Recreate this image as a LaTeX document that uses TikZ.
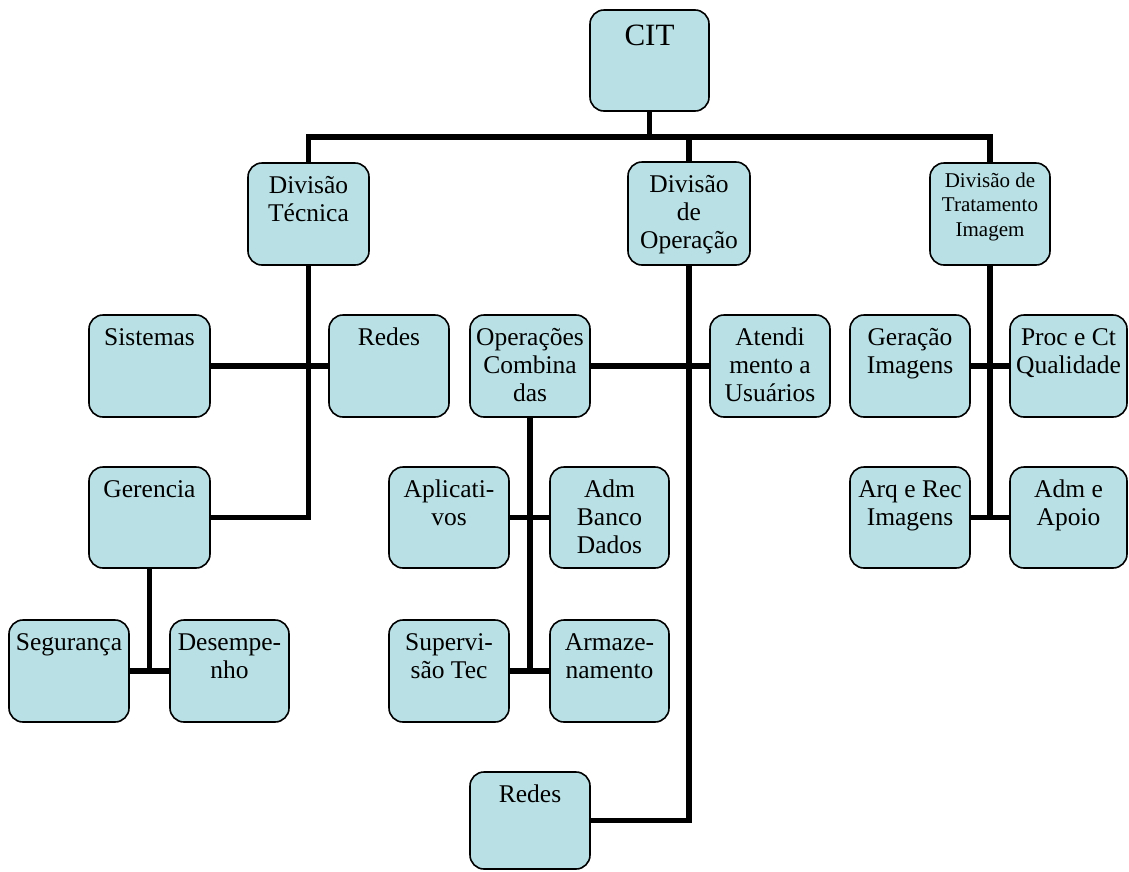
\documentclass[tikz,border=0pt]{standalone}
\usepackage{fontspec}
\setmainfont{Liberation Serif}
\definecolor{boxfill}{RGB}{185,224,228}
\newcommand{\bx}[4]{\parbox[c][#2][t]{#1}{\centering\rule{0pt}{#3}#4}}
\tikzset{
  box/.style={draw=black, line width=1.6pt, fill=boxfill, rounded corners=14pt, inner sep=0pt, font=\fontsize{25.5}{28}\selectfont},
  conn/.style={line width=5.5pt}
}
\begin{document}
\begin{tikzpicture}[x=1pt,y=-1pt]
\useasboundingbox (0,0) rectangle (1129,871);
% nodes
\node[box] (cit) at (649.5,60.5) {\bx{119pt}{101pt}{35pt}{\fontsize{31}{34}\selectfont CIT}};
\node[box] (dtec) at (308.5,214) {\bx{121pt}{102pt}{30pt}{Divisão\\Técnica}};
\node[box] (dop) at (689,213.5) {\bx{122pt}{103pt}{30pt}{Divisão\\de\\Operação}};
\node[box] (dtrat) at (990,214) {\bx{120pt}{102pt}{24pt}{\fontsize{21}{24.5}\selectfont Divisão de\\Tratamento\\Imagem}};
\node[box] (sis) at (149.5,366) {\bx{121pt}{102pt}{30pt}{Sistemas}};
\node[box] (redes) at (389,366) {\bx{120pt}{102pt}{30pt}{Redes}};
\node[box] (opc) at (530,366) {\bx{120pt}{102pt}{30pt}{Operações\\Combina\\das}};
\node[box] (ate) at (770,366) {\bx{120pt}{102pt}{30pt}{Atendi\\mento a\\Usuários}};
\node[box] (ger) at (910,366) {\bx{120pt}{102pt}{30pt}{Geração\\Imagens}};
\node[box] (proc) at (1068.5,366) {\bx{117pt}{102pt}{30pt}{Proc e Ct\\Qualidade}};
\node[box] (gere) at (149.5,517.5) {\bx{121pt}{101pt}{30pt}{Gerencia}};
\node[box] (apl) at (449,517.5) {\bx{120pt}{101pt}{30pt}{Aplicati-\\vos}};
\node[box] (adb) at (609.5,517.5) {\bx{119pt}{101pt}{30pt}{Adm\\Banco\\Dados}};
\node[box] (arq) at (910,517.5) {\bx{120pt}{101pt}{30pt}{Arq e Rec\\Imagens}};
\node[box] (ada) at (1068.5,517.5) {\bx{117pt}{101pt}{30pt}{Adm e\\Apoio}};
\node[box] (seg) at (69,671) {\bx{120pt}{102pt}{30pt}{Segurança}};
\node[box] (des) at (229.5,671) {\bx{119pt}{102pt}{30pt}{Desempe-\\nho}};
\node[box] (sup) at (449,671) {\bx{120pt}{102pt}{30pt}{Supervi-\\são Tec}};
\node[box] (arm) at (609.5,671) {\bx{119pt}{102pt}{30pt}{Armaze-\\namento}};
\node[box] (redes2) at (530,820.5) {\bx{120pt}{97pt}{30pt}{Redes}};
% connectors
\coordinate (bar) at (649.5,137);
\draw[conn] (cit.south) -- (bar);
\draw[conn] (dtec.north) |- (bar) -| (dtrat.north);
\draw[conn] (dop.north) -- (dop.north |- bar);
\draw[conn] (dtec.south) |- (gere.east);
\draw[conn] (sis.east) -- (redes.west);
\draw[conn] (gere.south) -- (gere.south |- seg.east);
\draw[conn] (seg.east) -- (des.west);
\draw[conn] (dop.south) |- (redes2.east);
\draw[conn] (opc.east) -- (ate.west);
\draw[conn] (opc.south) -- (opc.south |- sup.east);
\draw[conn] (apl.east) -- (adb.west);
\draw[conn] (sup.east) -- (arm.west);
\draw[conn] (dtrat.south) -- (dtrat.south |- arq.east);
\draw[conn] (ger.east) -- (proc.west);
\draw[conn] (arq.east) -- (ada.west);
\end{tikzpicture}
\end{document}
